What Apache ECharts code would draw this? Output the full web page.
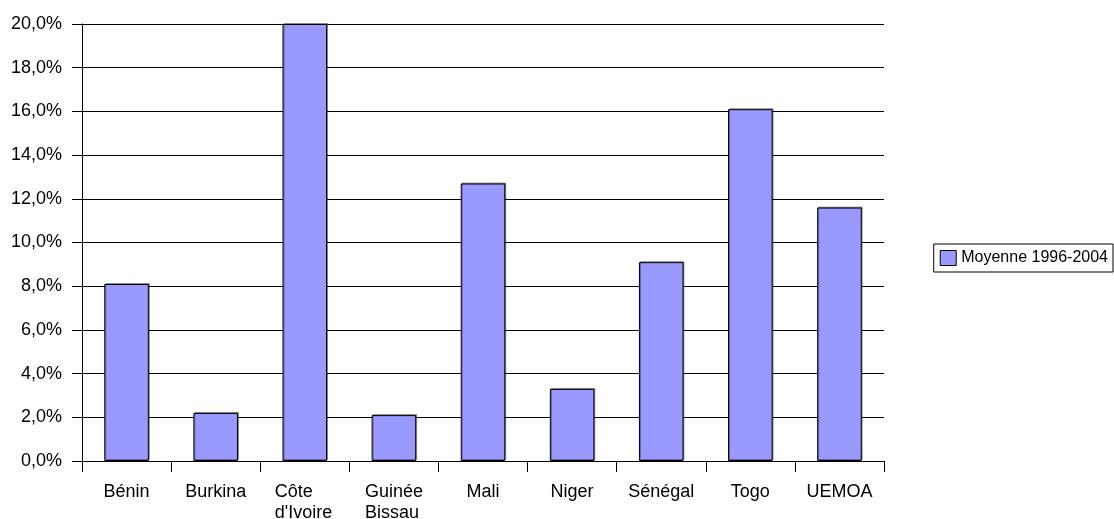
<!DOCTYPE html>
<html><head><meta charset="utf-8">
<script src="https://cdn.jsdelivr.net/npm/echarts@6/dist/echarts.min.js"></script>
<style>html,body{margin:0;padding:0;background:#fff}#c{width:1114px;height:519px}</style>
</head><body><div id="c"></div>
<script>
const categories = ["Bénin", "Burkina", "Côte\nd'Ivoire", "Guinée\nBissau", "Mali", "Niger", "Sénégal", "Togo", "UEMOA"];
const seriesName = "Moyenne 1996-2004";
const values = [8.1, 2.2, 20.0, 2.1, 12.7, 3.3, 9.1, 16.1, 11.6];
const yTicks = { min: 0, max: 20, interval: 2 };

const catData = categories.map(c => {
  if (c.indexOf('\n') < 0) return c;
  return { value: c, textStyle: { align: 'left', padding: [0, 0, 0, c.startsWith('Côte') ? -30 : -29] } };
});

const chart = echarts.init(document.getElementById('c'), null, { renderer: 'canvas' });
chart.setOption({
  animation: false,
  backgroundColor: '#fff',
  textStyle: { fontFamily: 'Liberation Sans, Arial, sans-serif' },
  grid: { left: 82, right: 230, top: 24, bottom: 58, containLabel: false, outerBoundsMode: 'none' },
  legend: {
    right: 1, top: 244, orient: 'vertical',
    data: [seriesName],
    itemWidth: 16, itemHeight: 15,
    padding: [6, 5, 6, 6],
    borderColor: '#000', borderWidth: 1,
    textStyle: { fontSize: 16, color: '#000' },
    icon: 'rect',
    itemStyle: { borderColor: '#000', borderWidth: 1 }
  },
  xAxis: {
    type: 'category', data: catData,
    axisLine: { lineStyle: { color: '#000', width: 1 } },
    axisTick: { show: true, length: 11, lineStyle: { color: '#000' } },
    axisLabel: { color: '#000', fontSize: 18, margin: 21, lineHeight: 21 }
  },
  yAxis: {
    type: 'value', min: yTicks.min, max: yTicks.max, interval: yTicks.interval,
    axisLine: { show: true, lineStyle: { color: '#000', width: 1 } },
    axisTick: { show: true, length: 10, lineStyle: { color: '#000' } },
    splitLine: { show: true, lineStyle: { color: '#000', width: 1 } },
    axisLabel: { color: '#000', fontSize: 18, margin: 20,
      formatter: v => v.toFixed(1).replace('.', ',') + '%' }
  },
  series: [{
    name: seriesName, type: 'bar', data: values,
    barCategoryGap: '50%',
    itemStyle: { color: '#9999ff', borderColor: '#000', borderWidth: 1,
      shadowColor: 'rgba(0,0,0,0.35)', shadowOffsetX: 1, shadowOffsetY: -1, shadowBlur: 0 }
  }]
});
</script></body></html>
